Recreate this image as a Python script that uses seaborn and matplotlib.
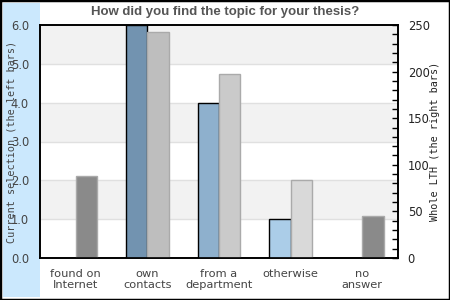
import matplotlib
matplotlib.use("Agg")
import matplotlib.pyplot as plt
from matplotlib.patches import Rectangle
from matplotlib.ticker import MultipleLocator
import seaborn as sns
import pandas as pd
import numpy as np

categories = ["found on\nInternet", "own\ncontacts", "from a\ndepartment", "otherwise", "no\nanswer"]
current_values = [np.nan, 6.0, 4.0, 1.0, np.nan]
lth_values = [88, 243, 197, 84, 45]
left_colors = ["#7293b0", "#7293b0", "#8eb0cd", "#abcde8", "#7293b0"]
right_colors = ["#8a8a8a", "#bebebe", "#cacaca", "#d9d9d9", "#8a8a8a"]
left_ticks = [0, 1, 2, 3, 4, 5, 6]
right_ticks = [0, 50, 100, 150, 200, 250]
series = ["Current selection", "Whole LTH"]

df = pd.DataFrame({
    "category": categories * 2,
    "series": [series[0]] * len(categories) + [series[1]] * len(categories),
    "value": current_values + lth_values,
})

sns.set_theme(style="white")

W, H = 450, 300
fig = plt.figure(figsize=(4.5, 3), dpi=100)
fig.patch.set_facecolor("white")
fig.patches.append(Rectangle((3 / W, 3 / H), 37 / W, 294 / H, transform=fig.transFigure,
                             facecolor="#cbe8fd", edgecolor="none", zorder=-1))
fig.patches.append(Rectangle((0, 0), 1, 1, transform=fig.transFigure, fill=False,
                             edgecolor="black", lw=2.5, zorder=5))

ax = fig.add_axes([40 / W, (H - 258) / H, 358 / W, 233 / H])
ax.set_facecolor("white")

sns.barplot(data=df[df.series == series[0]], x="category", y="value", hue="series",
            hue_order=series, order=categories, width=0.6, dodge=True, errorbar=None,
            edgecolor="black", linewidth=1, legend=False, ax=ax)
for p in ax.patches:
    i = int(round(p.get_x() + p.get_width()))
    p.set_facecolor(left_colors[i])
    p.set_zorder(3)

# alternating bands and grid
for lo in [1, 3, 5]:
    ax.axhspan(lo, lo + 1, facecolor="#f2f2f2", edgecolor="none", zorder=0)
for y in left_ticks[1:-1]:
    ax.axhline(y, color="#e0e0e0", lw=1, zorder=0.5)

ax.set_ylim(0, 6)
ax.set_yticks(left_ticks)
ax.set_yticklabels([f"{v:.1f}" for v in left_ticks])
ax.tick_params(axis="y", left=False, length=0, pad=8, labelsize=8.3, labelcolor="#444444")
ax.tick_params(axis="x", length=0, pad=8, labelsize=8.2, labelcolor="#444444")
for t in ax.get_xticklabels():
    t.set_linespacing(1.15)
ax.set_xlabel("")
ax.set_ylabel("Current selection (the left bars)", family="DejaVu Sans Mono",
              fontsize=7.3, color="#444444")
ax.yaxis.set_label_coords(-0.066, 0.5)
for s in ax.spines.values():
    s.set_color("black")
    s.set_linewidth(1.2)

ax2 = ax.twinx()
sns.barplot(data=df[df.series == series[1]], x="category", y="value", hue="series",
            hue_order=series, order=categories, width=0.6, dodge=True, errorbar=None,
            edgecolor="#aaaaaa", linewidth=1, legend=False, ax=ax2)
for p in ax2.patches:
    i = int(round(p.get_x()))
    p.set_facecolor(right_colors[i])
ax2.set_ylim(0, 250)
ax2.set_yticks(right_ticks)
ax2.yaxis.set_minor_locator(MultipleLocator(10))
ax2.tick_params(axis="y", which="both", direction="in", right=True, length=4,
                width=1, color="black", pad=7, labelsize=8.3, labelcolor="#222222")
ax2.set_ylabel("Whole LTH (the right bars)", family="DejaVu Sans Mono",
               fontsize=7.3, color="#222222")
ax2.yaxis.set_label_coords(1.09, 0.5)
for s in ax2.spines.values():
    s.set_color("black")
    s.set_linewidth(1.2)
ax.set_xlim(-0.5, len(categories) - 0.5)

fig.text(0.5, 1 - 12 / H, "How did you find the topic for your thesis?", ha="center",
         va="center", fontsize=9.5, fontweight="bold", color="#555555",
         family="Liberation Sans")

fig.savefig("out.png", dpi=100)
